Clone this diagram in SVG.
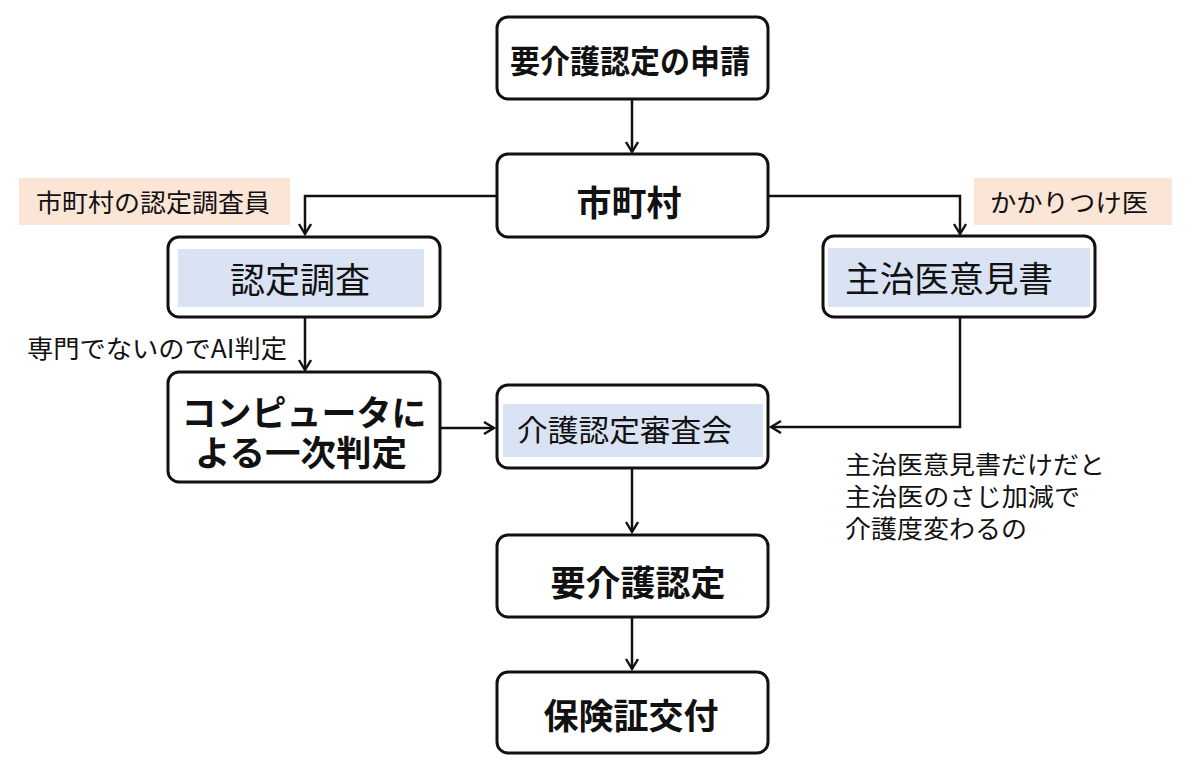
<svg xmlns="http://www.w3.org/2000/svg" width="1200" height="774" viewBox="0 0 1200 774">
<style>
.box{fill:#fff;stroke:#111;stroke-width:3}
.inner{fill:#dae3f3}
.tag{fill:#fbe5d6}
.t{font-family:"Noto Sans CJK JP","Noto Sans",sans-serif;fill:#111;dominant-baseline:central}
.b{font-weight:bold}
.c{text-anchor:middle}
.small{font-size:24px}
.conn{fill:none;stroke:#111;stroke-width:2.5}
</style>
<defs>
<marker id="arr" markerUnits="userSpaceOnUse" markerWidth="16" markerHeight="16" refX="11" refY="7" orient="auto">
<path d="M1,1 L11,7 L1,13" fill="none" stroke="#111" stroke-width="2.4"/>
</marker>
</defs>
<rect width="1200" height="774" fill="#fff"/>

<g id="connectors">
<line class="conn" x1="632" y1="99" x2="632" y2="152" marker-end="url(#arr)"/>
<polyline class="conn" points="497,196 305,196 305,234" marker-end="url(#arr)"/>
<polyline class="conn" points="768,196 960,196 960,234" marker-end="url(#arr)"/>
<line class="conn" x1="305" y1="317" x2="305" y2="370" marker-end="url(#arr)"/>
<line class="conn" x1="440" y1="428" x2="494" y2="428" marker-end="url(#arr)"/>
<polyline class="conn" points="960,317 960,427 771,427" marker-end="url(#arr)"/>
<line class="conn" x1="632" y1="468" x2="632" y2="532" marker-end="url(#arr)"/>
<line class="conn" x1="632" y1="617" x2="632" y2="669" marker-end="url(#arr)"/>
</g>

<g id="n-shinsei">
<rect class="box" x="497" y="17" width="271" height="82" rx="11"/>
<text class="t b c" x="630" y="59" font-size="32" textLength="240" lengthAdjust="spacingAndGlyphs">要介護認定の申請</text>
</g>

<g id="n-shichoson">
<rect class="box" x="497" y="154" width="271" height="83" rx="11"/>
<text class="t b c" x="629" y="200" font-size="35">市町村</text>
</g>

<g id="tag-chosain">
<rect class="tag" x="19" y="178" width="271" height="47"/>
<text class="t" x="36" y="201" font-size="25" textLength="234" lengthAdjust="spacingAndGlyphs">市町村の認定調査員</text>
</g>

<g id="tag-kakaritsuke">
<rect class="tag" x="974" y="178" width="198" height="47"/>
<text class="t" x="990" y="201" font-size="25" textLength="158" lengthAdjust="spacingAndGlyphs">かかりつけ医</text>
</g>

<g id="n-chosa">
<rect class="box" x="168" y="237" width="272" height="80" rx="11"/>
<rect class="inner" x="178" y="249" width="246" height="58"/>
<text class="t c" x="300" y="277" font-size="35">認定調査</text>
</g>

<g id="n-ikensho">
<rect class="box" x="823" y="236" width="272" height="81" rx="11"/>
<rect class="inner" x="828" y="248" width="262" height="59"/>
<text class="t" x="845" y="276" font-size="35" textLength="208" lengthAdjust="spacingAndGlyphs">主治医意見書</text>
</g>

<g id="label-ai">
<text class="t" x="27" y="347" font-size="25" textLength="260" lengthAdjust="spacingAndGlyphs">専門でないのでAI判定</text>
</g>

<g id="n-ichiji">
<rect class="box" x="168" y="372" width="272" height="110" rx="11"/>
<text class="t b c" x="304" y="410" font-size="35" textLength="245" lengthAdjust="spacingAndGlyphs">コンピュータに</text>
<text class="t b c" x="301" y="450" font-size="35" textLength="212" lengthAdjust="spacingAndGlyphs">よる一次判定</text>
</g>

<g id="n-shinsakai">
<rect class="box" x="497" y="385" width="271" height="83" rx="11"/>
<rect class="inner" x="503" y="404" width="260" height="53"/>
<text class="t" x="517" y="428" font-size="30" textLength="215" lengthAdjust="spacingAndGlyphs">介護認定審査会</text>
</g>

<g id="comment">
<text class="t" x="845" y="463" font-size="25" textLength="260" lengthAdjust="spacingAndGlyphs">主治医意見書だけだと</text>
<text class="t" x="845" y="495" font-size="25" textLength="235" lengthAdjust="spacingAndGlyphs">主治医のさじ加減で</text>
<text class="t" x="845" y="527" font-size="25" textLength="182" lengthAdjust="spacingAndGlyphs">介護度変わるの</text>
</g>

<g id="n-nintei">
<rect class="box" x="497" y="535" width="271" height="82" rx="11"/>
<text class="t b c" x="638" y="580" font-size="35">要介護認定</text>
</g>

<g id="n-kofu">
<rect class="box" x="497" y="672" width="271" height="81" rx="11"/>
<text class="t b c" x="631" y="713" font-size="35">保険証交付</text>
</g>
</svg>
